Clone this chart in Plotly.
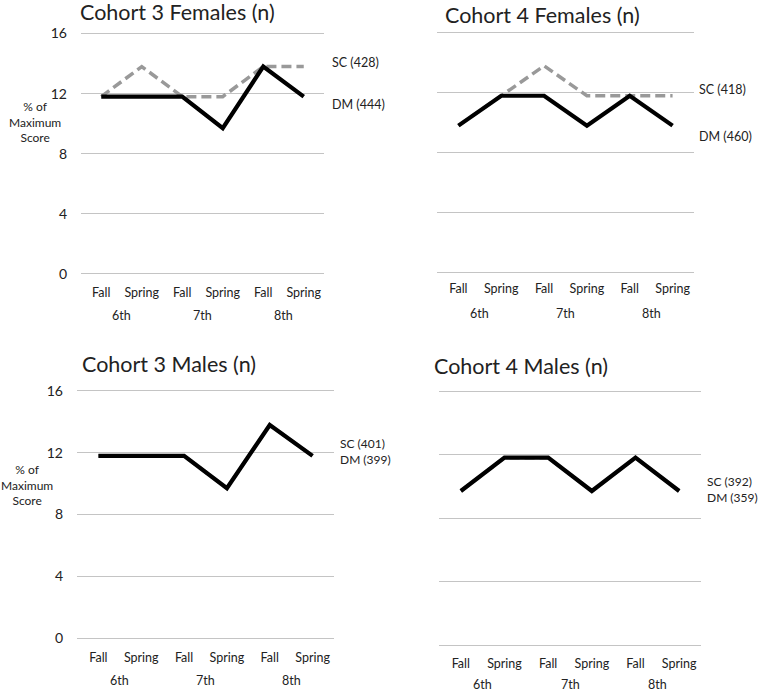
import plotly.graph_objects as go

W, H = 760, 692

# ---------------- data ----------------
terms = ["Fall", "Spring", "Fall", "Spring", "Fall", "Spring"]
grades = ["6th", "7th", "8th"]
y_ticks = [0, 4, 8, 12, 16]

titles = ["Cohort 3 Females (n)", "Cohort 4 Females (n)",
          "Cohort 3 Males (n)", "Cohort 4 Males (n)"]

c3f_sc = [11.8, 13.8, 11.8, 11.8, 13.8, 13.8]
c3f_dm = [11.8, 11.8, 11.8, 9.7, 13.8, 11.8]
c4f_sc = [9.8, 11.8, 13.8, 11.8, 11.8, 11.8]
c4f_dm = [9.8, 11.8, 11.8, 9.8, 11.8, 9.8]
c3m_sc = [11.8, 11.8, 11.8, 9.7, 13.8, 11.8]
c3m_dm = [11.8, 11.8, 11.8, 9.7, 13.8, 11.8]
c4m_sc = [9.7, 11.8, 11.8, 9.7, 11.8, 9.7]
c4m_dm = [9.7, 11.8, 11.8, 9.7, 11.8, 9.7]

sc_labels = ["SC (428)", "SC (418)", "SC (401)", "SC (392)"]
dm_labels = ["DM (444)", "DM (460)", "DM (399)", "DM (359)"]

sc_series = [c3f_sc, c4f_sc, c3m_sc, c4m_sc]
dm_series = [c3f_dm, c4f_dm, c3m_dm, c4m_dm]

# ---------------- layout (pixel geometry) ----------------
FONT = "Lato, 'Open Sans', sans-serif"
TXT = "#222222"
# x-left, x-right, px of y=0 gridline, px of y=16 gridline
panels = [
    (81, 324, 274, 33.5),
    (437, 694, 272, 33),
    (77, 334, 638, 391),
    (439, 701, 645, 391),
]
show_y = [True, False, True, False]
title_pos = [(78, 12), (443, 15), (80, 364), (432, 366)]
# separate labels (x, y_sc, y_dm) or stacked labels (x, y_center, None)
label_pos = [(330, 62, 104), (697, 89, 137), (338, 452, None), (705, 489, None)]
ytitle_pos = [(35, 122), None, (27, 485), None]
tick_y = [291, 288, 656, 662]
grade_y = [316, 313, 680, 684]

PAD = 0.4
YR = [-PAD, 16 + PAD]

def px_x(x):
    return x / W

def px_y(y):
    return 1 - y / H

fig = go.Figure()
annotations = []
xi = list(range(len(terms)))

for i in range(4):
    xl, xr, y0, y16 = panels[i]
    unit = (y0 - y16) / 16.0
    bot = y0 + PAD * unit
    top = y16 - PAD * unit
    sfx = "" if i == 0 else str(i + 1)
    xa = "x" + sfx
    ya = "y" + sfx

    fig.add_trace(go.Scatter(
        x=xi, y=sc_series[i], mode="lines", xaxis=xa, yaxis=ya,
        line=dict(color="#999999", width=3.5, dash="10px,5px"),
        showlegend=False, hoverinfo="skip"))
    fig.add_trace(go.Scatter(
        x=xi, y=dm_series[i], mode="lines", xaxis=xa, yaxis=ya,
        line=dict(color="#000000", width=4.2),
        showlegend=False, hoverinfo="skip"))

    x_std = int(round(max(tick_y[i] - bot - 8, 0)))
    fig.update_layout(**{
        ("xaxis" + sfx): dict(
            domain=[px_x(xl), px_x(xr)], range=[-0.5, len(terms) - 0.5],
            tickmode="array", tickvals=xi, ticktext=terms,
            showgrid=False, zeroline=False, showline=False, ticks="",
            tickfont=dict(family=FONT, size=12.5, color=TXT),
            ticklabelstandoff=x_std, fixedrange=True, automargin=False,
            anchor=ya),
        ("yaxis" + sfx): dict(
            domain=[px_y(bot), px_y(top)], range=YR,
            tickmode="array", tickvals=y_ticks,
            showticklabels=show_y[i],
            showgrid=True, gridcolor="#c4c4c4", gridwidth=1.4,
            zeroline=False, showline=False, ticks="",
            tickfont=dict(family=FONT, size=14, color=TXT),
            ticklabelstandoff=13, fixedrange=True, automargin=False,
            anchor=xa),
    })

    # title
    tx, ty = title_pos[i]
    annotations.append(dict(
        text=titles[i], x=px_x(tx), y=px_y(ty), xref="paper", yref="paper",
        xanchor="left", yanchor="middle", showarrow=False,
        font=dict(family=FONT, size=21.5, color=TXT)))
    # series labels
    lx, ly1, ly2 = label_pos[i]
    if ly2 is None:
        annotations.append(dict(
            text=sc_labels[i] + "<br>" + dm_labels[i],
            x=px_x(lx), y=px_y(ly1), xref="paper", yref="paper",
            xanchor="left", yanchor="middle", align="left", showarrow=False,
            font=dict(family=FONT, size=12, color=TXT)))
    else:
        for lab, ly in ((sc_labels[i], ly1), (dm_labels[i], ly2)):
            annotations.append(dict(
                text=lab, x=px_x(lx), y=px_y(ly), xref="paper", yref="paper",
                xanchor="left", yanchor="middle", showarrow=False,
                font=dict(family=FONT, size=12.5, color=TXT)))
    # grade labels
    for g, gname in enumerate(grades):
        annotations.append(dict(
            text=gname, x=2 * g + 0.5, xref=xa, y=px_y(grade_y[i]), yref="paper",
            xanchor="center", yanchor="middle", showarrow=False,
            font=dict(family=FONT, size=12.5, color=TXT)))
    # y-axis title
    if ytitle_pos[i] is not None:
        ax_, ay_ = ytitle_pos[i]
        annotations.append(dict(
            text="% of<br>Maximum<br>Score", x=px_x(ax_), y=px_y(ay_),
            xref="paper", yref="paper", xanchor="center", yanchor="middle",
            align="center", showarrow=False,
            font=dict(family=FONT, size=12, color=TXT)))

fig.update_layout(
    width=W, height=H,
    margin=dict(l=0, r=0, t=0, b=0),
    paper_bgcolor="white", plot_bgcolor="white",
    annotations=annotations,
    showlegend=False,
)

fig.write_html(
    "out.html",
    config={"displayModeBar": False},
    post_script="document.body.style.margin='0';document.body.style.overflow='hidden';",
)
